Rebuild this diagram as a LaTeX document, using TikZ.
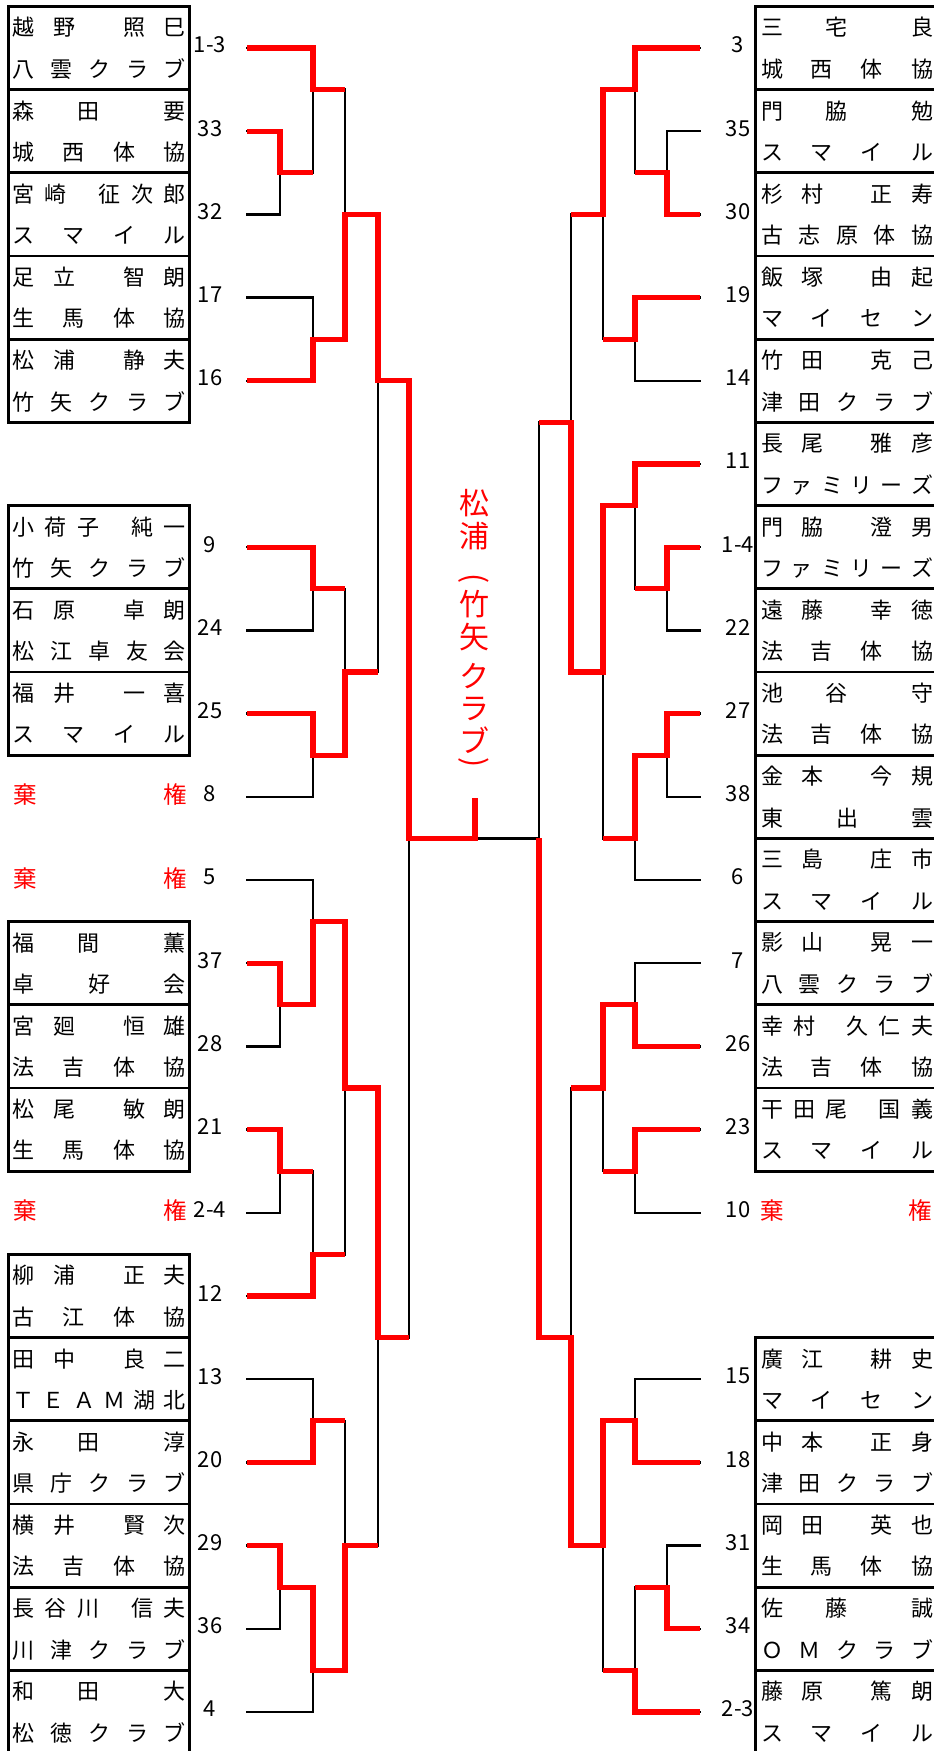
\documentclass[tikz,border=0pt]{standalone}
\usepackage{fontspec}
\newfontfamily\jp{Noto Sans CJK JP}
\newcommand\sly[1]{48+83.2*(#1)}
\newcommand\hsp{\hskip11pt\relax}
\newcommand\nmA[4]{#1\hfill#2\hfill\hsp\hfill#3\hfill#4}
\newcommand\nmB[5]{#1\hfill#2\hfill\hsp\hfill#3\hfill#4\hfill#5}
\newcommand\nmC[5]{#1\hfill#2\hfill#3\hfill\hsp\hfill#4\hfill#5}
\newcommand\nmD[3]{#1\hspace{\stretch{0.66}}#2\hspace{\stretch{1}}#3}
\tikzset{
  blk/.style={line width=2.3pt, draw=black, line cap=rect},
  win/.style={line width=5.3pt, draw=red, line join=miter},
  frame/.style={line width=2.7pt, draw=black},
  txt/.style={anchor=west, inner sep=0pt, outer sep=0pt, font=\jp\fontsize{22pt}{24pt}\selectfont},
  wd/.style={anchor=west, inner sep=0pt, outer sep=0pt, text=red, font=\jp\fontsize{23.5pt}{25pt}\selectfont},
  num/.style={inner sep=0pt, font=\jp\fontsize{22pt}{24pt}\selectfont},
  vt/.style={inner sep=0pt, text=red, font=\jp\fontsize{30pt}{32pt}\selectfont},
}
\newcommand\Lent[4]{%
  \node[txt] (ln#1) at (12.5,{\sly{#1}-20.5}) {\hbox to 173.5pt{#2}};
  \node[txt] (lc#1) at (12.5,{\sly{#1}+21}) {\hbox to 173.5pt{#3}};
  \node[num] (lno#1) at (210,{\sly{#1}-3}) {#4};}
\newcommand\Rent[4]{%
  \node[txt] (rn#1) at (761,{\sly{#1}-20.5}) {\hbox to 172pt{#2}};
  \node[txt] (rc#1) at (761,{\sly{#1}+21}) {\hbox to 172pt{#3}};
  \node[num] (rno#1) at (738,{\sly{#1}-3}) {#4};}
\newcommand\Lwd[2]{%
  \node[wd] (lw#1) at (13,{\sly{#1}-2}) {\hbox to 174pt{棄\hfill 権}};
  \node[num] (lno#1) at (210,{\sly{#1}-3}) {#2};}
\newcommand\Rwd[2]{%
  \node[wd] (rw#1) at (760.6,{\sly{#1}-2}) {\hbox to 171.5pt{棄\hfill 権}};
  \node[num] (rno#1) at (738,{\sly{#1}-3}) {#2};}
\newcommand\boxgrp[4]{%
  \draw[frame] (#1,{\sly{#3}-41.6}) rectangle (#2,{\sly{#4}+41.6});
  \foreach \k in {#3,...,#4}{\draw[frame] (#1,{\sly{\k}+41.6}) -- (#2,{\sly{\k}+41.6});}}
\begin{document}
\begin{tikzpicture}[x=1pt,y=-1pt]
\useasboundingbox (0,0) rectangle (934,1751);
\fill[white] (0,0) rectangle (934,1751);
\clip (0,0) rectangle (934,1751);
% boxes
\boxgrp{8.7}{189.5}{0}{4}
\boxgrp{8.7}{189.5}{6}{8}
\boxgrp{8.7}{189.5}{11}{13}
\boxgrp{8.7}{189.5}{15}{20}
\boxgrp{755.7}{945}{0}{13}
\boxgrp{755.7}{945}{16}{20}
% left entries
\Lent{0}{\nmA{越}{野}{照}{巳}}{八\hfill 雲\hfill ク\hfill ラ\hfill ブ}{1-3}
\Lent{1}{\nmD{森}{田}{要}}{城\hfill 西\hfill 体\hfill 協}{33}
\Lent{2}{\nmB{宮}{崎}{征}{次}{郎}}{ス\hfill マ\hfill イ\hfill ル}{32}
\Lent{3}{\nmA{足}{立}{智}{朗}}{生\hfill 馬\hfill 体\hfill 協}{17}
\Lent{4}{\nmA{松}{浦}{静}{夫}}{竹\hfill 矢\hfill ク\hfill ラ\hfill ブ}{16}
\Lent{6}{\nmC{小}{荷}{子}{純}{一}}{竹\hfill 矢\hfill ク\hfill ラ\hfill ブ}{9}
\Lent{7}{\nmA{石}{原}{卓}{朗}}{松\hfill 江\hfill 卓\hfill 友\hfill 会}{24}
\Lent{8}{\nmA{福}{井}{一}{喜}}{ス\hfill マ\hfill イ\hfill ル}{25}
\Lwd{9}{8}
\Lwd{10}{5}
\Lent{11}{\nmD{福}{間}{薫}}{卓\hfill 好\hfill 会}{37}
\Lent{12}{\nmA{宮}{廻}{恒}{雄}}{法\hfill 吉\hfill 体\hfill 協}{28}
\Lent{13}{\nmA{松}{尾}{敏}{朗}}{生\hfill 馬\hfill 体\hfill 協}{21}
\Lwd{14}{2-4}
\Lent{15}{\nmA{柳}{浦}{正}{夫}}{古\hfill 江\hfill 体\hfill 協}{12}
\Lent{16}{\nmA{田}{中}{良}{二}}{Ｔ\hfill Ｅ\hfill Ａ\hfill Ｍ\hfill 湖\hfill 北}{13}
\Lent{17}{\nmD{永}{田}{淳}}{県\hfill 庁\hfill ク\hfill ラ\hfill ブ}{20}
\Lent{18}{\nmA{横}{井}{賢}{次}}{法\hfill 吉\hfill 体\hfill 協}{29}
\Lent{19}{\nmC{長}{谷}{川}{信}{夫}}{川\hfill 津\hfill ク\hfill ラ\hfill ブ}{36}
\Lent{20}{\nmD{和}{田}{大}}{松\hfill 徳\hfill ク\hfill ラ\hfill ブ}{4}
% right entries
\Rent{0}{\nmD{三}{宅}{良}}{城\hfill 西\hfill 体\hfill 協}{3}
\Rent{1}{\nmD{門}{脇}{勉}}{ス\hfill マ\hfill イ\hfill ル}{35}
\Rent{2}{\nmA{杉}{村}{正}{寿}}{古\hfill 志\hfill 原\hfill 体\hfill 協}{30}
\Rent{3}{\nmA{飯}{塚}{由}{起}}{マ\hfill イ\hfill セ\hfill ン}{19}
\Rent{4}{\nmA{竹}{田}{克}{己}}{津\hfill 田\hfill ク\hfill ラ\hfill ブ}{14}
\Rent{5}{\nmA{長}{尾}{雅}{彦}}{フ\hfill ァ\hfill ミ\hfill リ\hfill ー\hfill ズ}{11}
\Rent{6}{\nmA{門}{脇}{澄}{男}}{フ\hfill ァ\hfill ミ\hfill リ\hfill ー\hfill ズ}{1-4}
\Rent{7}{\nmA{遠}{藤}{幸}{徳}}{法\hfill 吉\hfill 体\hfill 協}{22}
\Rent{8}{\nmD{池}{谷}{守}}{法\hfill 吉\hfill 体\hfill 協}{27}
\Rent{9}{\nmA{金}{本}{今}{規}}{東\hfill 出\hfill 雲}{38}
\Rent{10}{\nmA{三}{島}{庄}{市}}{ス\hfill マ\hfill イ\hfill ル}{6}
\Rent{11}{\nmA{影}{山}{晃}{一}}{八\hfill 雲\hfill ク\hfill ラ\hfill ブ}{7}
\Rent{12}{\nmB{幸}{村}{久}{仁}{夫}}{法\hfill 吉\hfill 体\hfill 協}{26}
\Rent{13}{\nmC{干}{田}{尾}{国}{義}}{ス\hfill マ\hfill イ\hfill ル}{23}
\Rwd{14}{10}
\Rent{16}{\nmA{廣}{江}{耕}{史}}{マ\hfill イ\hfill セ\hfill ン}{15}
\Rent{17}{\nmA{中}{本}{正}{身}}{津\hfill 田\hfill ク\hfill ラ\hfill ブ}{18}
\Rent{18}{\nmA{岡}{田}{英}{也}}{生\hfill 馬\hfill 体\hfill 協}{31}
\Rent{19}{\nmD{佐}{藤}{誠}}{Ｏ\hfill Ｍ\hfill ク\hfill ラ\hfill ブ}{34}
\Rent{20}{\nmA{藤}{原}{篤}{朗}}{ス\hfill マ\hfill イ\hfill ル}{2-3}
% slot lines
\foreach \s/\e in {0/313,1/280,2/280,3/313,4/313,6/313,7/313,8/313,9/313,10/313,11/280,12/280,13/280,14/280,15/313,16/313,17/313,18/280,19/280,20/313}{
  \coordinate (la\s) at (247,{\sly{\s}});
  \draw[blk] (la\s) -- (\e,{\sly{\s}});}
\foreach \s/\e in {0/635,1/667,2/667,3/635,4/635,5/635,6/667,7/667,8/667,9/667,10/635,11/635,12/635,13/635,14/635,16/635,17/635,18/667,19/667,20/635}{
  \coordinate (ra\s) at (700,{\sly{\s}});
  \draw[blk] (ra\s) -- (\e,{\sly{\s}});}
% match lines
\foreach \mx/\ma/\mb/\mo/\mn in {
  280/1/2/1.5/313, 313/0/1.5/0.5/345, 313/3/4/3.5/345, 345/0.5/3.5/2/378,
  313/6/7/6.5/345, 313/8/9/8.5/345, 345/6.5/8.5/7.5/378, 378/2/7.5/4/409,
  280/11/12/11.5/313, 313/10/11.5/10.5/345, 280/13/14/13.5/313, 313/13.5/15/14.5/345,
  345/10.5/14.5/12.5/378, 313/16/17/16.5/345, 280/18/19/18.5/313, 313/18.5/20/19.5/345,
  345/16.5/19.5/18/378, 378/12.5/18/15.5/409, 409/4/15.5/9.5/475,
  667/1/2/1.5/635, 635/0/1.5/0.5/603, 635/3/4/3.5/603, 603/0.5/3.5/2/571,
  667/6/7/6.5/635, 635/5/6.5/5.5/603, 667/8/9/8.5/635, 635/8.5/10/9.5/603,
  603/5.5/9.5/7.5/571, 571/2/7.5/4.5/539, 635/11/12/11.5/603, 635/13/14/13.5/603,
  603/11.5/13.5/12.5/571, 635/16/17/16.5/603, 667/18/19/18.5/635, 635/18.5/20/19.5/603,
  603/16.5/19.5/18/571, 571/12.5/18/15.5/539, 539/4.5/15.5/9.5/475}{
  \draw[blk] (\mx,{\sly{\ma}}) -- (\mx,{\sly{\mb}});
  \draw[blk] (\mx,{\sly{\mo}}) -- (\mn,{\sly{\mo}});}
% winners left
\draw[win] (la0) -- (313,{\sly{0}}) -- (313,{\sly{0.5}}) -- (345,{\sly{0.5}});
\draw[win] (la1) -- (280,{\sly{1}}) -- (280,{\sly{1.5}}) -- (313,{\sly{1.5}});
\draw[win] (la4) -- (313,{\sly{4}}) -- (313,{\sly{3.5}}) -- (345,{\sly{3.5}}) -- (345,{\sly{2}}) -- (378,{\sly{2}}) -- (378,{\sly{4}}) -- (409,{\sly{4}}) -- (409,{\sly{9.5}}) -- (475,{\sly{9.5}}) -- (475,798);
\draw[win] (la6) -- (313,{\sly{6}}) -- (313,{\sly{6.5}}) -- (345,{\sly{6.5}});
\draw[win] (la8) -- (313,{\sly{8}}) -- (313,{\sly{8.5}}) -- (345,{\sly{8.5}}) -- (345,{\sly{7.5}}) -- (378,{\sly{7.5}});
\draw[win] (la11) -- (280,{\sly{11}}) -- (280,{\sly{11.5}}) -- (313,{\sly{11.5}}) -- (313,{\sly{10.5}}) -- (345,{\sly{10.5}}) -- (345,{\sly{12.5}}) -- (378,{\sly{12.5}}) -- (378,{\sly{15.5}}) -- (409,{\sly{15.5}});
\draw[win] (la13) -- (280,{\sly{13}}) -- (280,{\sly{13.5}}) -- (313,{\sly{13.5}});
\draw[win] (la15) -- (313,{\sly{15}}) -- (313,{\sly{14.5}}) -- (345,{\sly{14.5}});
\draw[win] (la17) -- (313,{\sly{17}}) -- (313,{\sly{16.5}}) -- (345,{\sly{16.5}});
\draw[win] (la18) -- (280,{\sly{18}}) -- (280,{\sly{18.5}}) -- (313,{\sly{18.5}}) -- (313,{\sly{19.5}}) -- (345,{\sly{19.5}}) -- (345,{\sly{18}}) -- (378,{\sly{18}});
% winners right
\draw[win] (ra0) -- (635,{\sly{0}}) -- (635,{\sly{0.5}}) -- (603,{\sly{0.5}}) -- (603,{\sly{2}}) -- (571,{\sly{2}});
\draw[win] (ra2) -- (667,{\sly{2}}) -- (667,{\sly{1.5}}) -- (635,{\sly{1.5}});
\draw[win] (ra3) -- (635,{\sly{3}}) -- (635,{\sly{3.5}}) -- (603,{\sly{3.5}});
\draw[win] (ra5) -- (635,{\sly{5}}) -- (635,{\sly{5.5}}) -- (603,{\sly{5.5}}) -- (603,{\sly{7.5}}) -- (571,{\sly{7.5}}) -- (571,{\sly{4.5}}) -- (539,{\sly{4.5}});
\draw[win] (ra6) -- (667,{\sly{6}}) -- (667,{\sly{6.5}}) -- (635,{\sly{6.5}});
\draw[win] (ra8) -- (667,{\sly{8}}) -- (667,{\sly{8.5}}) -- (635,{\sly{8.5}}) -- (635,{\sly{9.5}}) -- (603,{\sly{9.5}});
\draw[win] (ra12) -- (635,{\sly{12}}) -- (635,{\sly{11.5}}) -- (603,{\sly{11.5}}) -- (603,{\sly{12.5}}) -- (571,{\sly{12.5}});
\draw[win] (ra13) -- (635,{\sly{13}}) -- (635,{\sly{13.5}}) -- (603,{\sly{13.5}});
\draw[win] (ra17) -- (635,{\sly{17}}) -- (635,{\sly{16.5}}) -- (603,{\sly{16.5}}) -- (603,{\sly{18}}) -- (571,{\sly{18}}) -- (571,{\sly{15.5}}) -- (539,{\sly{15.5}}) -- (539,{\sly{9.5}});
\draw[win] (ra19) -- (667,{\sly{19}}) -- (667,{\sly{18.5}}) -- (635,{\sly{18.5}});
\draw[win] (ra20) -- (635,{\sly{20}}) -- (635,{\sly{19.5}}) -- (603,{\sly{19.5}});
% champion
\node[vt] (v1) at (474,503.5) {松};
\node[vt] (v2) at (474,536) {浦};
\node[vt,rotate=-90] (v3) at (474,579) {(};
\node[vt] (v4) at (474,604.5) {竹};
\node[vt] (v5) at (474,637.5) {矢};
\node[vt] (v6) at (474,676) {ク};
\node[vt] (v7) at (474,708.5) {ラ};
\node[vt] (v8) at (474,740.5) {ブ};
\node[vt,rotate=-90] (v9) at (474,763) {)};
\end{tikzpicture}
\end{document}
